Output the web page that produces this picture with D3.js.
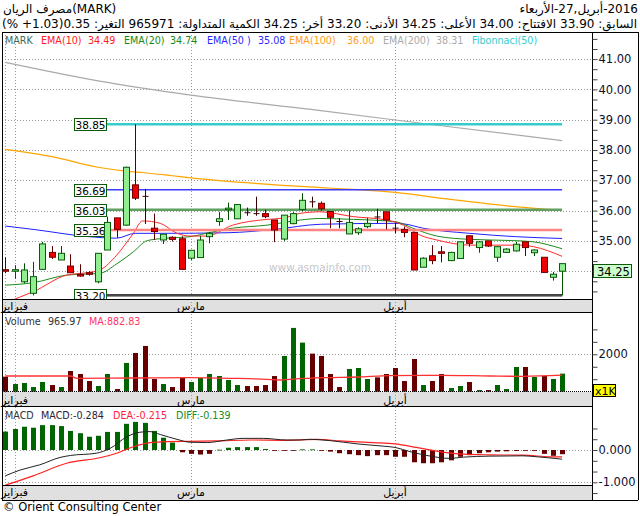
<!DOCTYPE html>
<html><head><meta charset="utf-8">
<script src="https://cdn.jsdelivr.net/npm/d3@7"></script>
<style>body{margin:0;background:#fff} svg{display:block} text{font-family:"DejaVu Sans",sans-serif}</style>
</head><body><svg id="c" width="640" height="516"></svg>
<script>
// ---------- DATA ----------
const opens  = [34.05,34.00,33.65,33.27,34.06,34.62,34.37,34.17,33.90,33.95,
                33.65,34.70,35.76,35.52,36.85,36.47,35.42,35.03,35.12,35.07,
                34.43,34.45,35.14,35.64,36.03,35.73,35.93,35.90,35.90,35.69,
                35.06,35.57,36.04,36.29,36.24,35.97,35.64,35.23,35.27,35.47,
                35.79,35.96,35.42,35.38,35.28,34.13,34.51,34.64,34.35,34.42,
                35.17,34.78,35.00,34.46,34.62,34.67,34.97,34.61,34.46,33.80,34.00];
const highs  = [34.46,34.20,34.26,34.31,34.97,34.83,34.83,34.56,34.23,34.00,
                34.60,35.80,35.76,37.45,38.85,36.72,35.90,35.22,35.15,35.15,
                34.69,35.16,35.30,35.96,36.26,36.20,36.10,36.46,36.03,35.69,
                35.85,35.95,36.57,36.46,36.30,35.97,35.75,36.00,35.45,35.76,
                36.06,35.96,35.60,35.47,35.28,34.46,34.86,34.83,34.64,34.97,
                35.17,34.97,35.00,34.81,34.76,34.97,34.97,34.72,34.46,33.97,34.25];
const lows   = [33.93,33.75,33.60,33.20,34.06,34.40,34.37,33.95,33.82,33.85,
                33.60,34.70,35.10,35.50,36.35,35.56,35.03,34.90,34.98,34.06,
                34.37,34.45,34.92,35.50,35.69,35.73,35.83,35.83,35.75,34.96,
                35.00,35.55,35.98,36.10,36.00,35.42,35.42,35.23,35.20,35.42,
                35.58,35.38,35.25,35.12,34.04,34.13,34.23,34.29,34.33,34.42,
                34.81,34.61,34.80,34.31,34.60,34.65,34.50,34.50,33.96,33.69,33.20];
const closes = [34.00,34.05,34.04,33.82,34.90,34.46,34.59,33.95,33.84,33.90,
                34.59,35.61,35.38,37.43,36.41,36.47,35.31,35.22,35.05,34.06,
                34.69,35.03,35.25,35.73,36.08,36.20,35.93,35.90,35.80,35.36,
                35.85,35.90,36.34,36.29,36.06,35.78,35.64,35.61,35.40,35.58,
                35.79,35.69,35.42,35.28,34.04,34.43,34.35,34.59,34.62,34.97,
                34.92,34.97,34.83,34.81,34.73,34.89,34.78,34.70,33.96,33.90,34.25];
const volumes = [804,411,464,250,518,357,250,1107,946,571,
                 304,946,143,1536,2071,2446,679,411,250,732,
                 518,732,946,839,625,357,304,304,357,839,
                 1911,3411,2625,2036,1911,946,250,1214,1268,679,
                 768,946,1268,571,1750,357,571,946,196,304,
                 518,89,89,357,143,1321,1321,786,839,679,966];
const volumeMA = [[0,839],[7,839],[7.7,714],[13.8,732],[19.9,750],[24.5,714],[28.2,661],[29.6,625],
                  [30.7,661],[34.2,750],[37.9,786],[41.5,857],[46.8,875],[52.2,839],[55.8,821],[60,883]];
const ema10  = [[0,32.95],[1.6,33.15],[3,33.32],[6.6,33.87],[8.8,33.95],[10.2,34.04],[12,34.53],[13.8,35.25],
                [14.8,35.66],[16.7,35.58],[18.5,35.25],[19.9,35.16],[21.7,35.16],[24.5,35.52],[28.2,35.71],
                [29.9,35.75],[31.8,35.91],[33.9,35.96],[37.5,35.80],[41.1,35.69],[42.9,35.52],[44.7,35.19],
                [46.5,35.03],[50.1,34.86],[55.5,34.86],[56.9,34.81],[60,34.49]];
const ema20  = [[0,33.54],[3,33.62],[6.6,33.87],[10.2,33.93],[12,34.24],[13.8,34.64],[15.3,35.01],[17.4,35.09],
                [19.9,35.14],[22.4,35.30],[24.5,35.42],[28.2,35.52],[31.8,35.69],[33.9,35.74],[37.5,35.71],
                [42.1,35.63],[43.9,35.42],[46.5,35.16],[50.1,35.05],[54.7,35.01],[56.9,34.97],[60,34.74]];
const ema50  = [[0,35.49],[3,35.38],[9,35.14],[12,35.09],[14,35.25],[17,35.25],[24,35.27],[29,35.38],
                [34,35.55],[42,35.58],[43,35.56],[45,35.42],[50,35.25],[55,35.14],[60,35.08]];
const ema100 = [[0,38.02],[5,37.78],[10,37.43],[13,37.30],[15,37.25],[18,37.15],[20,37.08],[34,36.76],
                [38,36.69],[42,36.60],[48,36.37],[55,36.13],[60,36.00]];
const ema200 = [[0,40.89],[10,40.28],[20,39.81],[34,39.30],[47,38.80],[60,38.31]];
const macdHist = [0.57,0.65,0.72,0.69,0.77,0.77,0.74,0.59,0.52,0.41,
                  0.44,0.56,0.56,0.81,0.87,0.84,0.59,0.38,0.23,-0.07,
                  -0.12,-0.14,-0.12,0.01,0.07,0.09,0.09,0.09,0.03,-0.02,
                  -0.02,-0.02,0.02,0.02,-0.01,-0.05,-0.10,-0.13,-0.16,-0.19,
                  -0.16,-0.16,-0.21,-0.21,-0.38,-0.41,-0.41,-0.38,-0.32,-0.21,
                  -0.16,-0.10,-0.07,-0.05,-0.04,-0.03,-0.02,-0.02,-0.12,-0.18,-0.13];
const macdLine = [[0,-0.80],[1.6,-0.62],[3.7,-0.46],[5.9,-0.23],[7,-0.17],[9.8,-0.10],[11.3,0.05],[13.1,0.41],
                  [14.5,0.55],[15.6,0.57],[16.7,0.48],[18.5,0.33],[19.9,0.24],[21.7,0.23],[23.9,0.31],
                  [25.6,0.36],[27.8,0.36],[30.3,0.31],[31.8,0.31],[32.8,0.33],[35,0.29],[37.9,0.19],
                  [40.7,0.12],[42,0.08],[43.6,-0.05],[45.8,-0.19],[47.9,-0.26],[49.4,-0.22],[52.2,-0.19],
                  [55.8,-0.18],[57.3,-0.21],[60,-0.284]];
const deaLine  = [[0,-1.09],[3,-0.80],[6.6,-0.41],[10.2,-0.24],[12,-0.10],[13.8,0.10],[15.6,0.23],[17.4,0.26],
                  [19.9,0.27],[22.8,0.28],[26.4,0.31],[30,0.30],[33.6,0.33],[36.1,0.28],[39.7,0.23],
                  [42,0.19],[44.3,0.08],[46.8,-0.05],[49.4,-0.13],[52.2,-0.15],[55.8,-0.16],[58.7,-0.21],[60,-0.215]];
const fibLevels = [38.85, 36.69, 36.03, 35.36, 33.20];
const priceTicks = [34,35,36,37,38,39,40,41];
const monthMarks = [{i:0,label:""},{i:1,label:"فبراير"},{i:20,label:"مارس"},{i:42,label:"أبريل"}];
const titleText = "مصرف الريان(MARK)";
// header pieces, listed in visual order (left to right)
const datePieces = ["الأربعاء","-27,","أبريل","-2016"];
const infoPieces = ["(% +1.03)0.35",":التغير","965971",":الكمية المتداولة","34.25",":أخر","33.20",":الأدنى",
                    "34.25",":الأعلى","34.00",":الافتتاح","33.90",":السابق"];
const legendItems = [["MARK","#3d6b5a"],["EMA(10)","#ff2020"],["34.49","#ff2020"],["EMA(20)","#138a13"],["34.74","#138a13"],
  ["EMA(50 )","#2828ff"],["35.08","#2828ff"],["EMA(100)","#ffa020"],["36.00","#ffa020"],["EMA(200)","#aaaaaa"],["38.31","#aaaaaa"],["Fibonnaci(50)","#33cccc"]];

// ---------- LAYOUT ----------
const svg = d3.select("#c");
const L = 2, R = 592, RR = 638;
const main = {top:32, bottom:299}, vol = {top:313, bottom:392}, mac = {top:407, bottom:485};
const x = d3.scaleLinear().domain([0,60]).range([5.3,562.1]);
const y = d3.scaleLinear().domain([34,41]).range([271.2,59.1]);
const yv = d3.scaleLinear().domain([0,2000]).range([391.7,354.3]);
const ym = d3.scaleLinear().domain([-1,0]).range([482.3,450]);

// strips
[[299,313],[392,407],[485,500]].forEach(([a,b])=>{
  svg.append("rect").attr("x",L).attr("y",a).attr("width",R-L).attr("height",b-a).attr("fill","#e0e0e0");
});

// clips
const defs = svg.append("defs");
[["cm",main],["cv",vol],["cc",mac]].forEach(([id,p])=>{
  defs.append("clipPath").attr("id",id).append("rect").attr("x",L).attr("y",p.top).attr("width",R-L).attr("height",p.bottom-p.top);
});

const dot = "1,2";
monthMarks.forEach(m=>{
  svg.append("line").attr("x1",Math.round(x(m.i))+0.5).attr("x2",Math.round(x(m.i))+0.5)
    .attr("y1",main.top).attr("y2",500).attr("stroke","#999").attr("stroke-dasharray",dot);
});
const gm = svg.append("g").attr("clip-path","url(#cm)");
priceTicks.forEach(p=>{
  gm.append("line").attr("x1",L).attr("x2",R).attr("y1",Math.round(y(p))+0.5).attr("y2",Math.round(y(p))+0.5)
    .attr("stroke","#999").attr("stroke-dasharray",dot);
});
svg.append("line").attr("x1",L).attr("x2",R).attr("y1",Math.round(yv(2000))+0.5).attr("y2",Math.round(yv(2000))+0.5).attr("stroke","#999").attr("stroke-dasharray",dot);
[0,-1].forEach(v=>svg.append("line").attr("x1",L).attr("x2",R).attr("y1",Math.round(ym(v))+0.5).attr("y2",Math.round(ym(v))+0.5).attr("stroke","#999").attr("stroke-dasharray",dot));

// watermark
svg.append("text").attr("x",320).attr("y",271).attr("text-anchor","middle").attr("font-size",10.5)
  .attr("fill","#c8c8c8").text("www.asmainfo.com");

// EMA lines
const line = d3.line().x(d=>x(d[0])).y(d=>y(d[1])).curve(d3.curveMonotoneX);
[[ema200,"#aaaaaa",1.2],[ema100,"#ffa500",1.2],[ema50,"#2020ff",1],[ema20,"#1a8c1a",1],[ema10,"#ff2a2a",1]].forEach(([d,c,w])=>{
  gm.append("path").attr("d",line(d)).attr("fill","none").attr("stroke",c).attr("stroke-width",w);
});

// Fibonacci lines
const fibStyle = [["#35cccc",2.5],["#3c3cff",1.5],["#5f9f5f",2.5],["#ff8585",2.5],["#444",3]];
fibLevels.forEach((lv,k)=>{
  const yy = y(lv);
  gm.append("line").attr("x1",107).attr("x2",x(60)).attr("y1",yy).attr("y2",yy)
    .attr("stroke",fibStyle[k][0]).attr("stroke-width",fibStyle[k][1]);
  if(k===4) gm.append("line").attr("x1",107).attr("x2",x(60)).attr("y1",yy+1).attr("y2",yy+1).attr("stroke","#999").attr("stroke-width",1);
  gm.append("rect").attr("x",74.5).attr("y",Math.round(yy)-5.5).attr("width",32).attr("height",12)
    .attr("fill","#fff").attr("stroke","#0a5a0a");
  gm.append("text").attr("x",90.5).attr("y",Math.round(yy)+4.5).attr("text-anchor","middle").attr("font-size",10.5)
    .attr("fill","#000").text(lv.toFixed(2));
});

// candles
const cg = svg.append("g").attr("clip-path","url(#cm)");
opens.forEach((o,i)=>{
  const c = closes[i], h = highs[i], l = lows[i];
  const up = c>o, dn = c<o;
  const cx = Math.round(x(i))+0.5;
  const wick = up ? "#005000" : dn ? "#5a0000" : "#3a0000";
  cg.append("line").attr("x1",cx).attr("x2",cx).attr("y1",y(h)).attr("y2",y(l)).attr("stroke",wick);
  if(up||dn){
    const top = y(Math.max(o,c)), bot = y(Math.min(o,c));
    cg.append("rect").attr("x",cx-3).attr("y",top).attr("width",6).attr("height",Math.max(1,bot-top))
      .attr("fill",up?"#90ee90":"#ee0000").attr("stroke",up?"#0a5a0a":"#700000").attr("stroke-width",1);
  } else {
    cg.append("line").attr("x1",cx-3).attr("x2",cx+3).attr("y1",y(c)).attr("y2",y(c)).attr("stroke",wick);
  }
});

// volume bars
volumes.forEach((v,i)=>{
  const up = closes[i]>opens[i];
  svg.append("rect").attr("x",Math.round(x(i))-2).attr("y",yv(v)).attr("width",5).attr("height",yv(0)-yv(v))
    .attr("fill",up?"#006400":"#660000");
});
svg.append("path").attr("d",d3.line().x(d=>x(d[0])).y(d=>yv(d[1])).curve(d3.curveMonotoneX)(volumeMA))
  .attr("fill","none").attr("stroke","#ff3030").attr("stroke-width",1.3);

// MACD
macdHist.forEach((v,i)=>{
  svg.append("rect").attr("x",Math.round(x(i))-2).attr("y",Math.min(ym(v),ym(0))).attr("width",5)
    .attr("height",Math.max(0.8,Math.abs(ym(v)-ym(0)))).attr("fill",v>=0?"#006400":"#660000");
});
const ml = d3.line().x(d=>x(d[0])).y(d=>ym(d[1])).curve(d3.curveMonotoneX);
svg.append("path").attr("d",ml(deaLine)).attr("fill","none").attr("stroke","#ff2020").attr("stroke-width",1.2);
svg.append("path").attr("d",ml(macdLine)).attr("fill","none").attr("stroke","#222").attr("stroke-width",1);

// borders
const bl = (x1,y1,x2,y2,c="#000")=>svg.append("line").attr("x1",x1).attr("y1",y1).attr("x2",x2).attr("y2",y2).attr("stroke",c);
bl(L,32.5,RR,32.5); bl(L+0.5,32,L+0.5,500); bl(R+0.5,32,R+0.5,500); bl(RR+0.5,32,RR+0.5,500);
bl(L,299.5,R,299.5); bl(L,312.5,R,312.5); bl(L,406.5,R,406.5); bl(L,485.5,R,485.5); bl(L,500.5,RR,500.5);
svg.append("line").attr("x1",L).attr("x2",R).attr("y1",391.5).attr("y2",391.5).attr("stroke","#000").attr("stroke-dasharray","1,1");

// month labels in strips
monthMarks.filter(m=>m.label).forEach(m=>{
  [310,404,496].forEach(yy=>{
    svg.append("text").attr("x",x(m.i)).attr("y",yy).attr("text-anchor","middle").attr("font-size",11).attr("fill","#000").text(m.label);
  });
});

// right axes
const axMain = d3.axisRight(y).tickValues(d3.range(100,126).map(k=>k/3)).tickSize(5)
  .tickFormat(v=>Math.abs(v-Math.round(v))<1e-6 ? v.toFixed(2) : "");
const gA = svg.append("g").attr("transform",`translate(${R+0.5},0)`).call(axMain);
const axVol = d3.axisRight(yv).tickValues([2000/3,4000/3,2000,8000/3,10000/3]).tickSize(5)
  .tickFormat(v=>v===2000?"2000":"");
const gV = svg.append("g").attr("transform",`translate(${R+0.5},0)`).call(axVol);
const axMac = d3.axisRight(ym).tickValues([-4/3,-1,-2/3,-1/3,0,1/3,2/3]).tickSize(5)
  .tickFormat(v=>(v===0||v===-1)? d3.format(".3f")(v).replace("−","-") : "");
const gM = svg.append("g").attr("transform",`translate(${R+0.5},0)`).call(axMac);
[gA,gV,gM].forEach(g=>{
  g.select(".domain").remove();
  g.selectAll(".tick line").attr("stroke","#444");
  g.selectAll(".tick text").attr("x",6).attr("font-size",11.5).attr("font-family","DejaVu Sans").attr("fill","#101030");
});

// price tag & x1K
svg.append("rect").attr("x",593.5).attr("y",264.5).attr("width",38).attr("height",13).attr("fill","#ccffcc").attr("stroke","#0a5a0a");
svg.append("text").attr("x",597).attr("y",275.5).attr("font-size",11.5).attr("fill","#000").text(closes[60].toFixed(2));
svg.append("rect").attr("x",593.5).attr("y",384.5).attr("width",22).attr("height",12).attr("fill","#ffff00").attr("stroke","#000");
svg.append("text").attr("x",595).attr("y",394.5).attr("font-size",11).attr("fill","#000").text("x1K");

// legends
const legX = [5,41,88,124,170,207,258,289,347,383,436,472];
legendItems.forEach(([t,c],k)=>{
  svg.append("text").attr("x",legX[k]).attr("y",43.5).attr("font-size",9.6).attr("fill",c).text(t);
});
[["Volume",5,"#333"],["965.97",48,"#333"],["MA:882.83",89,"#ff3366"]].forEach(([t,xx,c])=>{
  svg.append("text").attr("x",xx).attr("y",324.5).attr("font-size",9.6).attr("fill",c).text(t);
});
[["MACD",5,"#333"],["MACD:-0.284",41,"#302030"],["DEA:-0.215",113,"#ff2040"],["DIFF:-0.139",176,"#1a8a1a"]].forEach(([t,xx,c])=>{
  svg.append("text").attr("x",xx).attr("y",419).attr("font-size",9.6).attr("fill",c).text(t);
});

// header: lay out pieces right-to-left, each piece its own text
function layoutPieces(pieces, rightX, leftX, baseY, fs, gapEm){
  const g = svg.append("g");
  const ts = pieces.map(p=>g.append("text").attr("y",baseY).attr("font-size",fs).attr("fill","#000").text(p));
  const gap = fs*gapEm;
  let widths = ts.map(t=>t.node().getComputedTextLength());
  let total = d3.sum(widths) + gap*(pieces.length-1);
  let scale = 1;
  if(leftX!==null && total > rightX-leftX){
    scale = (rightX-leftX)/total;
    ts.forEach(t=>t.attr("font-size",fs*scale));
    widths = widths.map(w=>w*scale);
  }
  let cur = rightX;
  for(let k=pieces.length-1;k>=0;k--){
    cur -= widths[k];
    ts[k].attr("x",cur);
    cur -= gap*scale;
  }
}
svg.append("text").attr("x",3).attr("y",13).attr("font-size",12).attr("fill","#000").text(titleText);
layoutPieces(datePieces, 638, null, 13, 12, 0);
layoutPieces(infoPieces, 637, 1, 27.5, 12, 0.32);
svg.append("text").attr("x",3).attr("y",511).attr("font-size",11.5).attr("fill","#000").text("© Orient Consulting Center");
</script></body></html>
